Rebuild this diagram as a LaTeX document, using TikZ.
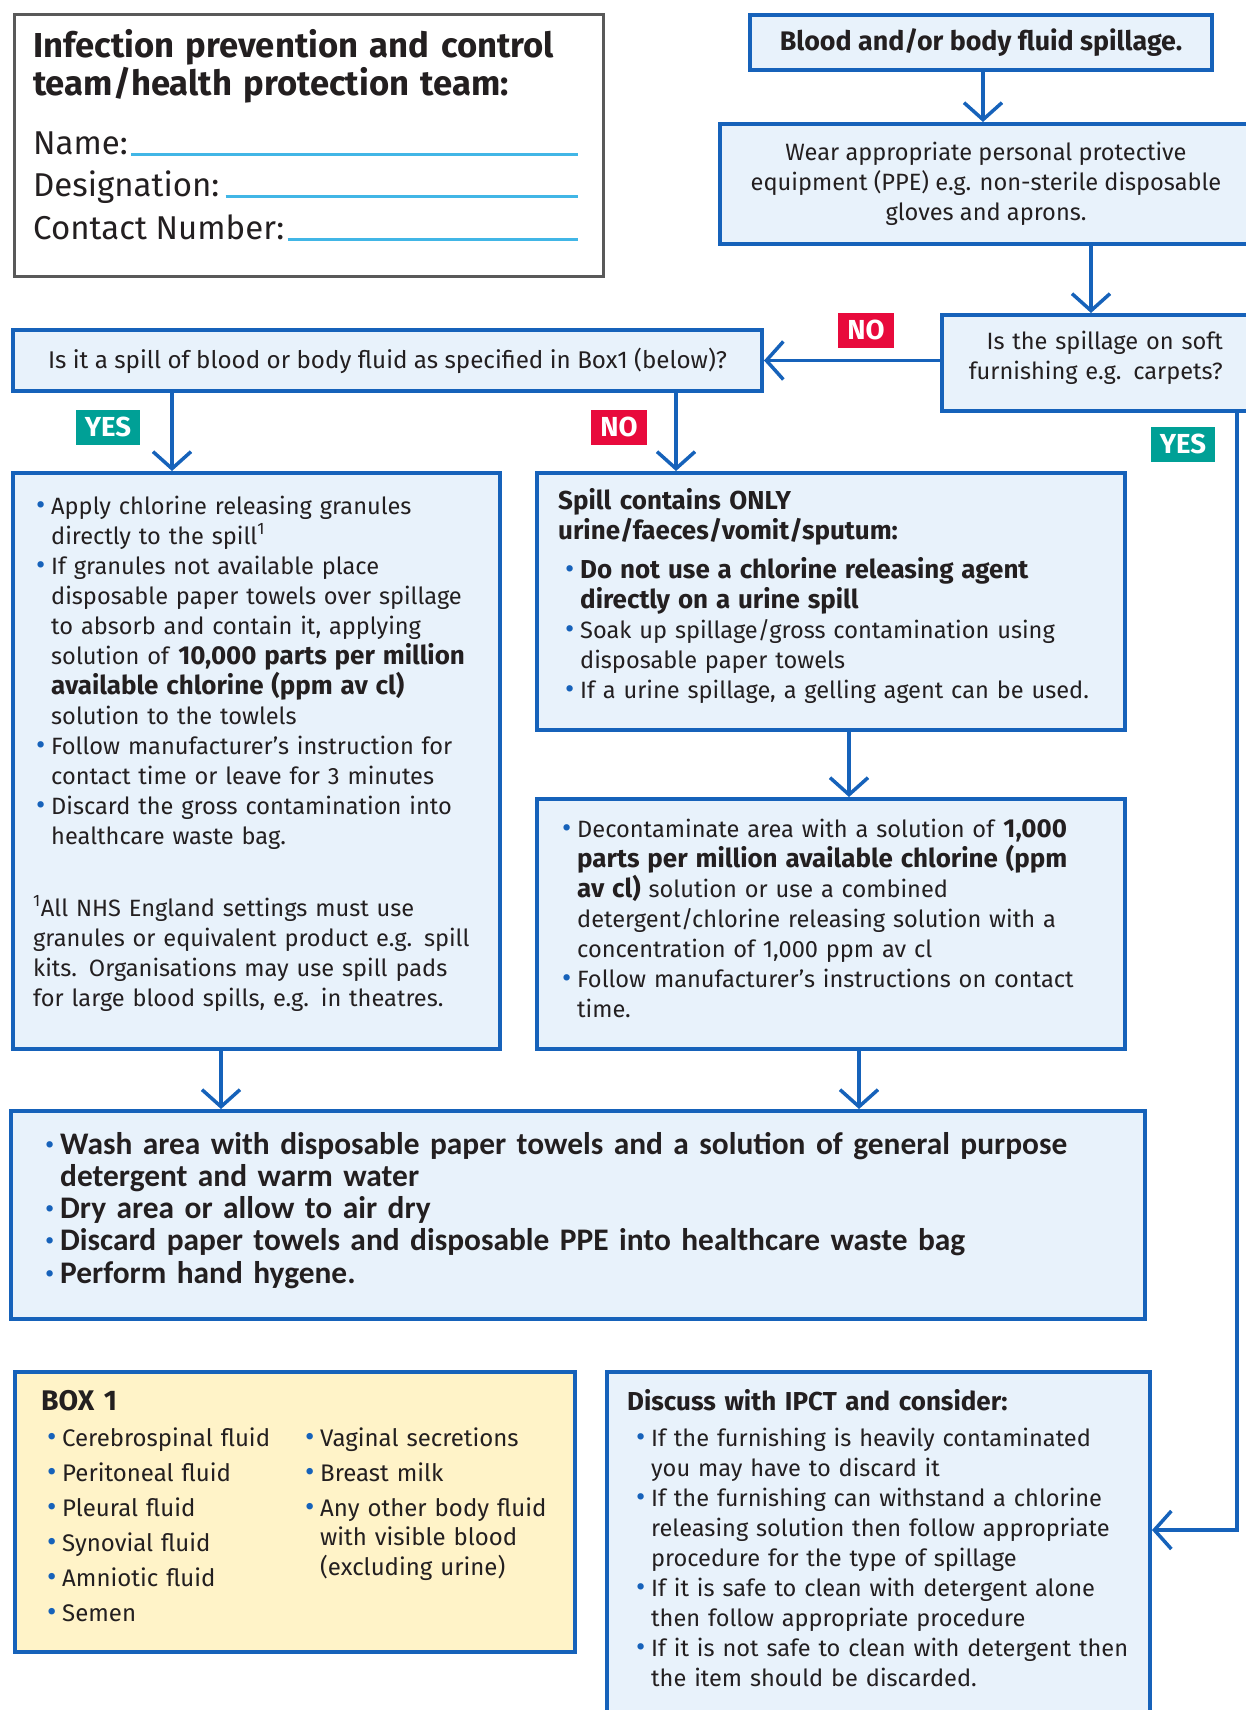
\documentclass[tikz,border=0pt]{standalone}
\usepackage{fontspec}
\setmainfont{Fira Sans}[BoldFeatures={Scale=1.1}]
\newfontfamily\washfont{Carlito}
\usepackage{xcolor}
\usepackage{tikz}
\usetikzlibrary{positioning,calc,arrows.meta}
\definecolor{nhsblue}{RGB}{22,98,186}
\definecolor{boxfill}{RGB}{232,242,251}
\definecolor{boxone}{RGB}{255,243,200}
\definecolor{noRed}{RGB}{232,10,60}
\definecolor{yesGreen}{RGB}{0,160,150}
\definecolor{fieldCyan}{RGB}{65,182,230}
\definecolor{inkText}{RGB}{35,31,32}
\def\BoxLine{4pt}
\def\BodySize{\fontsize{23.6}{30}\selectfont}
\newcommand\blt{\makebox[15pt][l]{\textcolor{nhsblue}{\normalfont\scalebox{1.2}{\textbullet}}}}
\newcommand\wblt{\makebox[15pt][l]{\textcolor{nhsblue}{\normalfont\fontsize{23.6}{30}\selectfont\scalebox{1.2}{\textbullet}}}}
\newcommand\contind{\hspace*{15pt}}

\begin{document}
\begin{tikzpicture}[x=1pt,y=-1pt,
    box/.style={draw=nhsblue,line width=\BoxLine,fill=boxfill,inner sep=0pt,anchor=north west,text=inkText,font=\BodySize,align=center},
    txt/.style={anchor=base west,inner sep=0pt,text width=#1,align=left,text=inkText,font=\BodySize},
    flow/.style={draw=nhsblue,line width=3.5pt,-{Straight Barb[length=17pt,width=38pt]}},
    tag/.style={text=white,font=\bfseries\fontsize{25}{25}\selectfont,inner xsep=9pt,minimum height=35pt},
    field/.style={anchor=base west,inner sep=0pt,text=inkText,font=\fontsize{33}{38}\selectfont},
    fieldline/.style={draw=fieldCyan,line width=3pt}]
  \useasboundingbox (0,0) rectangle (1245,1710);
  % contact card
  \node[draw=black!65,line width=3pt,fill=white,anchor=north west,minimum width=589pt,minimum height=262pt] (card) at (13,13) {};
  \node[anchor=base west,inner sep=0pt,text width=570pt,align=left,text=inkText,font=\bfseries\fontsize{31.5}{37}\selectfont] (cardtitle) at ($(card.north west)+(20,45)$) {Infection prevention and control\\team/health protection team:};
  \node[field] (name) at ($(card.north west)+(20,141)$) {Name:};
  \node[field] (desig) at ($(card.north west)+(20,183)$) {Designation:};
  \node[field] (contact) at ($(card.north west)+(20,226)$) {Contact Number:};
  \coordinate (fieldend) at (578,0);
  \draw[fieldline] ([xshift=3pt]name.base east) -- (name.base east -| fieldend);
  \draw[fieldline] ([xshift=6pt]desig.base east) -- (desig.base east -| fieldend);
  \draw[fieldline] ([xshift=3pt]contact.base east) -- (contact.base east -| fieldend);
  % 
  \node[box,minimum width=462pt,minimum height=55pt,font=\bfseries\fontsize{24.4}{28}\selectfont] (blood) at (748,13) {Blood and/or body fluid spillage.};
  \node[box,minimum width=532pt,minimum height=120pt] (ppe) at (718,122) {Wear appropriate personal protective\\equipment (PPE) e.g. non-sterile disposable\\gloves and aprons.};
  \node[box,minimum width=310pt,minimum height=96pt] (soft) at (940,313) {};
  \node[anchor=base east,inner sep=0pt,text width=290pt,align=right,text=inkText,font=\BodySize] (softq) at ($(soft.north west)+(283,36)$) {Is the spillage on soft\\furnishing e.g. carpets?};
  \node[box,minimum width=749pt,minimum height=61pt,font=\fontsize{24.2}{28}\selectfont] (question) at (11,328) {Is it a spill of blood or body fluid as specified in Box1 (below)?};
  % 
  \node[box,minimum width=487pt,minimum height=576pt] (leftbox) at (11,471) {};
  \node[box,minimum width=588pt,minimum height=257pt] (onlybox) at (535,471) {};
  \node[box,minimum width=588pt,minimum height=250pt] (deconbox) at (535,797) {};
  \node[box,minimum width=1134pt,minimum height=208pt] (washbox) at (9,1109) {};
  \node[box,fill=boxone,minimum width=560pt,minimum height=280pt] (boxone) at (13,1370) {};
  \node[box,minimum width=543pt,minimum height=350pt] (discuss) at (605,1370) {};
  % 
  \node[txt=470pt] (granules) at ($(leftbox.north west)+(25,43)$) {%
    \blt Apply chlorine releasing granules\\
    \contind directly to the spill\textsuperscript{1}\\
    \blt If granules not available place\\
    \contind disposable paper towels over spillage\\
    \contind to absorb and contain it, applying\\
    \contind solution of \textbf{10,000 parts per million}\\
    \contind\textbf{available chlorine (ppm av cl)}\\
    \contind solution to the towlels\\
    \blt Follow manufacturer’s instruction for\\
    \contind contact time or leave for 3 minutes\\
    \blt Discard the gross contamination into\\
    \contind healthcare waste bag.\\[42pt]
    \hspace*{-3pt}\textsuperscript{1}All NHS England settings must use\\
    \hspace*{-3pt}granules or equivalent product e.g. spill\\
    \hspace*{-3pt}kits. Organisations may use spill pads\\
    \hspace*{-3pt}for large blood spills, e.g. in theatres.};
  \node[txt=570pt,font=\BodySize\bfseries] (onlyhead) at ($(onlybox.north west)+(23,38)$) {Spill contains ONLY\\urine/faeces/vomit/sputum:};
  \node[txt=570pt] (onlylist) at ($(onlybox.north west)+(30,107)$) {%
    \blt\textbf{Do not use a chlorine releasing agent}\\
    \contind\textbf{directly on a urine spill}\\
    \blt Soak up spillage/gross contamination using\\
    \contind disposable paper towels\\
    \blt If a urine spillage, a gelling agent can be used.};
  \node[txt=570pt] (deconlist) at ($(deconbox.north west)+(27,40)$) {%
    \blt Decontaminate area with a solution of \textbf{1,000}\\
    \contind\textbf{parts per million available chlorine (ppm}\\
    \contind\textbf{av cl)} solution or use a combined\\
    \contind detergent/chlorine releasing solution with a\\
    \contind concentration of 1,000 ppm av cl\\
    \blt Follow manufacturer’s instructions on contact\\
    \contind time.};
  \node[txt=1100pt,font=\washfont\bfseries\fontsize{31.4}{32.3}\selectfont] (washlist) at ($(washbox.north west)+(36,45)$) {%
    \wblt Wash area with disposable paper towels and a solution of general purpose\\
    \contind detergent and warm water\\
    \wblt Dry area or allow to air dry\\
    \wblt Discard paper towels and disposable PPE into healthcare waste bag\\
    \wblt Perform hand hygene.};
  % box 1
  \node[txt=500pt,font=\bfseries\fontsize{25.8}{30}\selectfont] (boxhead) at ($(boxone.north west)+(28,40)$) {BOX 1};
  \node[txt=250pt,font=\fontsize{24}{35}\selectfont] (fluidsa) at ($(boxone.north west)+(34,76)$) {%
    \blt Cerebrospinal fluid\\
    \blt Peritoneal fluid\\
    \blt Pleural fluid\\
    \blt Synovial fluid\\
    \blt Amniotic fluid\\
    \blt Semen};
  \node[txt=265pt,font=\fontsize{24}{29.5}\selectfont] (fluidsb) at ($(boxone.north west)+(292,76)$) {%
    \blt Vaginal secretions\\[5.5pt]
    \blt Breast milk\\[5.5pt]
    \blt Any other body fluid\\
    \contind with visible blood\\
    \contind (excluding urine)};
  % 
  \node[txt=520pt,font=\BodySize\bfseries] (discusshead) at ($(discuss.north west)+(22,40)$) {Discuss with IPCT and consider:};
  \node[txt=520pt] (discusslist) at ($(discuss.north west)+(31,76)$) {%
    \blt If the furnishing is heavily contaminated\\
    \contind you may have to discard it\\
    \blt If the furnishing can withstand a chlorine\\
    \contind releasing solution then follow appropriate\\
    \contind procedure for the type of spillage\\
    \blt If it is safe to clean with detergent alone\\
    \contind then follow appropriate procedure\\
    \blt If it is not safe to clean with detergent then\\
    \contind the item should be discarded.};
  % arrows
  \coordinate (xa) at (983,0);
  \coordinate (xb) at (1091,0);
  \coordinate (xyes) at (172,0);
  \coordinate (xno) at (676,0);
  \coordinate (xmid) at (849,0);
  \coordinate (xwl) at (221,0);
  \coordinate (xwr) at (859,0);
  \coordinate (xfar) at (1237,0);
  \coordinate (yturn) at (0,1530);
  \draw[flow] (blood.south -| xa) -- (ppe.north -| xa);
  \draw[flow] (ppe.south -| xb) -- (soft.north -| xb);
  \draw[flow] (question.east -| soft.west) -- (question.east);
  \draw[flow] (question.south -| xyes) -- (leftbox.north -| xyes);
  \draw[flow] (question.south -| xno) -- (onlybox.north -| xno);
  \draw[flow] (onlybox.south -| xmid) -- (deconbox.north -| xmid);
  \draw[flow] (leftbox.south -| xwl) -- (washbox.north -| xwl);
  \draw[flow] (deconbox.south -| xwr) -- (washbox.north -| xwr);
  \draw[flow] (soft.south -| xfar) -- (xfar |- yturn) -- (discuss.east |- yturn);
  % 
  \node[tag,fill=noRed] (nosoft) at (866,330) {NO};
  \node[tag,fill=yesGreen] (yesbox) at (108,427) {YES};
  \node[tag,fill=noRed] (nobox) at (619,427) {NO};
  \node[tag,fill=yesGreen] (yessoft) at (1183,444) {YES};
\end{tikzpicture}
\end{document}
